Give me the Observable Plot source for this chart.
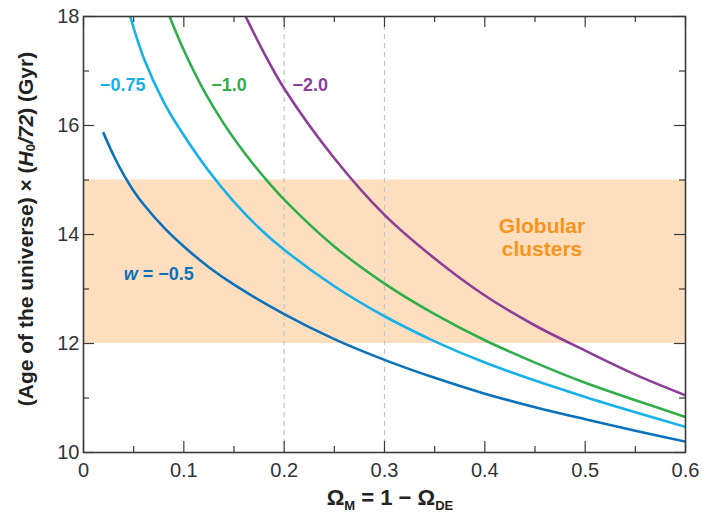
<!DOCTYPE html>
<html><head><meta charset="utf-8">
<script src="https://cdn.jsdelivr.net/npm/d3@7"></script>
<script src="https://cdn.jsdelivr.net/npm/@observablehq/plot@0.6"></script>
<style>
body{margin:0;background:#fff;}
#chart{width:702px;height:518px;}
</style>
</head><body><div id="chart"></div>
<script>
// ---- data ----
const seriesNames = ["w = −0.5", "−0.75", "−1.0", "−2.0"];
const seriesColors = ["#0a72ba", "#16b0ea", "#2fae4a", "#8c3e98"];

const omW05 = [0.02,0.03,0.04,0.05,0.06,0.08,0.10,0.125,0.15,0.20,0.25,0.30,0.35,0.40,0.45,0.50,0.55,0.60];
const ageW05 = [15.86,15.45,15.10,14.80,14.55,14.13,13.78,13.40,13.08,12.54,12.08,11.70,11.37,11.08,10.83,10.61,10.40,10.20];

const omW075 = [0.0466,0.06,0.08,0.10,0.125,0.15,0.175,0.20,0.25,0.30,0.35,0.40,0.45,0.50,0.55,0.60];
const ageW075 = [18.0,17.24,16.43,15.82,15.16,14.60,14.12,13.72,13.05,12.50,12.04,11.65,11.32,11.02,10.74,10.47];

const omW10 = [0.0858,0.10,0.12,0.14,0.16,0.18,0.20,0.25,0.30,0.35,0.40,0.45,0.50,0.55,0.60];
const ageW10 = [18.0,17.38,16.64,16.03,15.51,15.05,14.64,13.78,13.10,12.54,12.06,11.65,11.28,10.96,10.65];

const omW20 = [0.1616,0.18,0.20,0.25,0.30,0.35,0.40,0.45,0.50,0.55,0.60];
const ageW20 = [18.0,17.33,16.68,15.40,14.36,13.56,12.88,12.33,11.87,11.43,11.05];

const bandLow = 12, bandHigh = 15;
const bandLabel = ["Globular", "clusters"];
const bandLabelX = [0.457, 0.457];
const bandLabelY = [14.15, 13.72];

const curveLabelX = [0.075, 0.039, 0.145, 0.226];
const curveLabelY = [13.27, 16.73, 16.73, 16.73];

const refLinesX = [0.2, 0.3];
const xMajor = [0, 0.1, 0.2, 0.3, 0.4, 0.5, 0.6];
const xMinor = [0.05, 0.15, 0.25, 0.35, 0.45, 0.55];
const yMajor = [10, 12, 14, 16, 18];
const yMinor = [11, 13, 15, 17];

// ---- build tables ----
const allOm = [omW05, omW075, omW10, omW20];
const allAge = [ageW05, ageW075, ageW10, ageW20];
const lines = [];
allOm.forEach((xs, i) => xs.forEach((x, j) => lines.push({series: seriesNames[i], x, y: allAge[i][j]})));
const curveLabels = seriesNames.map((s, i) => ({series: s, x: curveLabelX[i], y: curveLabelY[i]}));
const bandLabels = bandLabel.map((t, i) => ({t, x: bandLabelX[i], y: bandLabelY[i]}));

const W = 702, H = 518, mL = 83, mR = 17, mT = 16, mB = 66;
const innerW = W - mL - mR, innerH = H - mT - mB;
const ink = "#3a3a3a";
const font = "'Liberation Sans', Arial, Helvetica, sans-serif";

const plot = Plot.plot({
  width: W, height: H,
  marginLeft: mL, marginRight: mR, marginTop: mT, marginBottom: mB,
  style: {fontFamily: font, background: "#fff", color: ink, overflow: "visible"},
  x: {domain: [0, 0.6], label: null},
  y: {domain: [10, 18], label: null},
  color: {domain: seriesNames, range: seriesColors},
  marks: [
    Plot.rect([{y1: bandLow, y2: bandHigh}], {y1: "y1", y2: "y2", fill: "#fddfc0"}),
    Plot.ruleX(refLinesX, {stroke: "#c4c4c4", strokeWidth: 1.2, strokeDasharray: "5,4"}),
    Plot.line(lines, {x: "x", y: "y", z: "series", stroke: "series", strokeWidth: 2.6, curve: "catmull-rom", clip: true}),
    Plot.text(curveLabels, {x: "x", y: "y", text: "series", fill: "series", fontSize: 18, fontWeight: "bold"}),
    Plot.text(bandLabels, {x: "x", y: "y", text: "t", fill: "#f7941d", fontSize: 21, fontWeight: "bold"}),
    // inward ticks on four sides
    Plot.tickX(xMajor, {x: d => d, insetTop: innerH - 11, stroke: ink, strokeWidth: 1.2}),
    Plot.tickX(xMinor, {x: d => d, insetTop: innerH - 6, stroke: ink, strokeWidth: 1.2}),
    Plot.tickX(xMajor, {x: d => d, insetBottom: innerH - 11, stroke: ink, strokeWidth: 1.2}),
    Plot.tickX(xMinor, {x: d => d, insetBottom: innerH - 6, stroke: ink, strokeWidth: 1.2}),
    Plot.tickY(yMajor, {y: d => d, insetRight: innerW - 11, stroke: ink, strokeWidth: 1.2}),
    Plot.tickY(yMinor, {y: d => d, insetRight: innerW - 6, stroke: ink, strokeWidth: 1.2}),
    Plot.tickY(yMajor, {y: d => d, insetLeft: innerW - 11, stroke: ink, strokeWidth: 1.2}),
    Plot.tickY(yMinor, {y: d => d, insetLeft: innerW - 6, stroke: ink, strokeWidth: 1.2}),
    Plot.axisX(xMajor, {anchor: "bottom", tickSize: 0, tickPadding: 10, fontSize: 20, fill: "#333", tickFormat: d => String(d), label: null}),
    Plot.axisY(yMajor, {anchor: "left", tickSize: 0, tickPadding: 4, fontSize: 20, fill: "#333", tickFormat: d => String(d), label: null}),
    Plot.frame({stroke: ink, strokeWidth: 1.6})
  ]
});
document.getElementById("chart").appendChild(plot);

const svg = d3.select(plot);
// italic w in the curve label
svg.selectAll("text").filter(function () { return this.textContent === "w = −0.5"; }).each(function () {
  const t = d3.select(this);
  t.text(null);
  t.append("tspan").attr("font-style", "italic").text("w");
  t.append("tspan").text(" = −0.5");
});

// y-axis title
const yt = svg.append("text")
  .attr("transform", `translate(27,229) rotate(-90)`)
  .attr("text-anchor", "middle").attr("dominant-baseline", "middle")
  .attr("font-family", font).attr("font-size", 21).attr("font-weight", "bold").attr("fill", "#222");
yt.append("tspan").text("(Age of the universe) × (");
yt.append("tspan").attr("font-style", "italic").text("H");
yt.append("tspan").attr("font-size", 13).attr("dy", 5).text("0");
yt.append("tspan").attr("font-style", "italic").attr("dy", -5).text("/72");
yt.append("tspan").text(") (Gyr)");

// x-axis title
const xt = svg.append("text")
  .attr("x", 390).attr("y", 505)
  .attr("text-anchor", "middle")
  .attr("font-family", font).attr("font-size", 22).attr("font-weight", "bold").attr("fill", "#222");
xt.append("tspan").text("Ω");
xt.append("tspan").attr("font-size", 13).attr("dy", 5).text("M");
xt.append("tspan").attr("dy", -5).text(" = 1 − Ω");
xt.append("tspan").attr("font-size", 13).attr("dy", 5).text("DE");
</script>
</body></html>
